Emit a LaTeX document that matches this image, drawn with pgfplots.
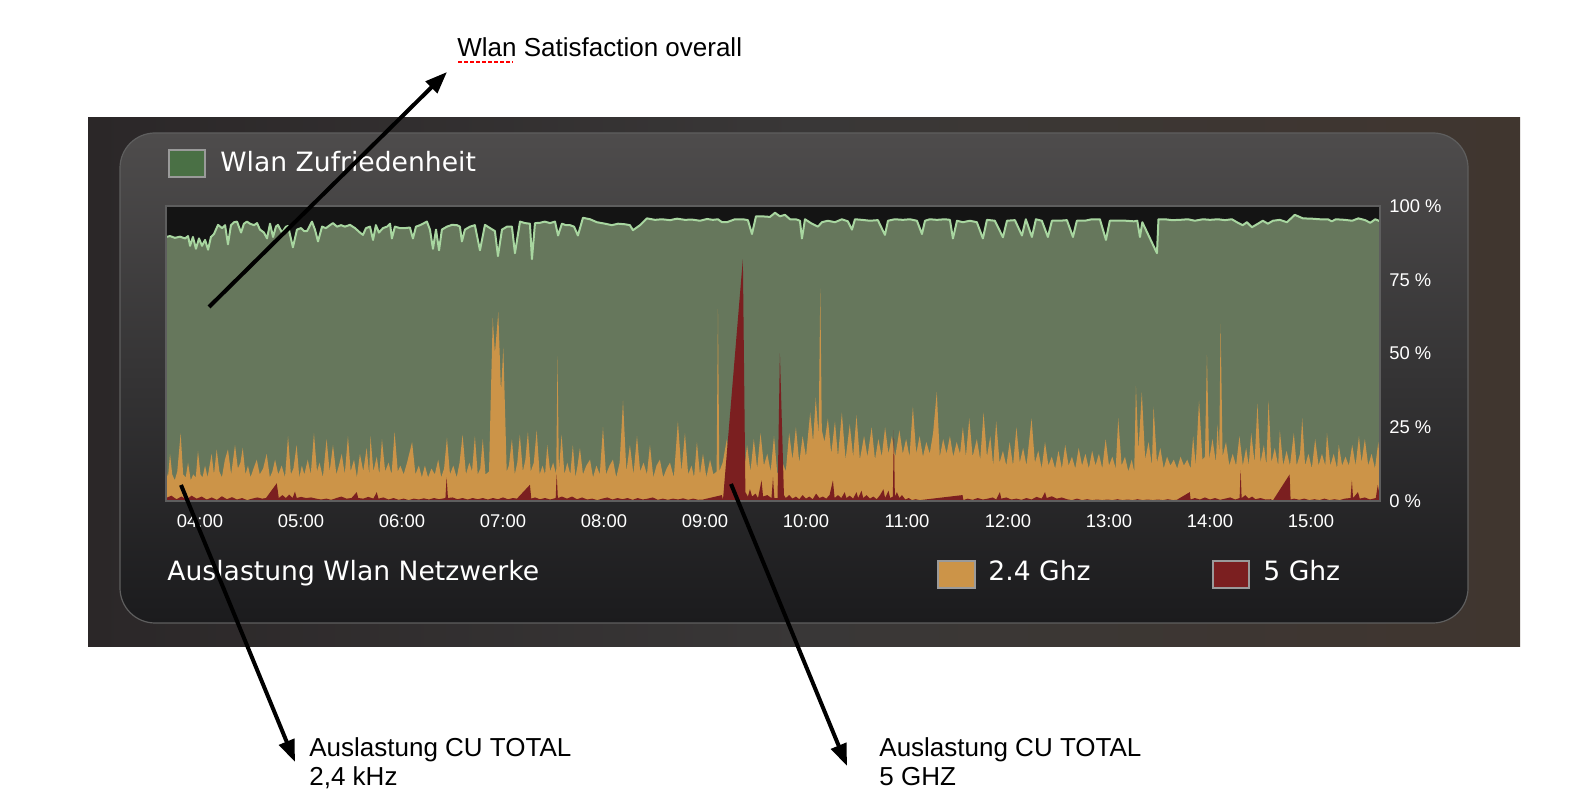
\documentclass[border=0pt]{standalone}
\usepackage{pgfplots}
\pgfplotsset{compat=1.18}
\usepackage{pgfplotstable}
\usepackage{fontspec}
\setmainfont{Liberation Sans}
\newfontfamily\dv{DejaVu Sans}
\usetikzlibrary{arrows.meta}
\definecolor{plotbg}{HTML}{141414}
\definecolor{satfill}{HTML}{66775C}
\definecolor{satline}{HTML}{A8D6A0}
\definecolor{ghzA}{HTML}{CC9448}
\definecolor{ghzB}{HTML}{7B1F20}
\definecolor{legg}{HTML}{4A7045}
\definecolor{frameg}{HTML}{5E5E5E}
\definecolor{outerL}{HTML}{2B2728}
\definecolor{outerM}{HTML}{393737}
\definecolor{outerR}{HTML}{40362F}
\definecolor{innerT}{HTML}{4E4C4C}
\definecolor{innerB}{HTML}{1B1B1D}
\definecolor{sqborder}{HTML}{9A9A9A}

\pgfplotstableread[row sep=\\]{x y\\
-20.2 89.5\\ -17.8 89.8\\ -14.9 89.2\\ -11.9 89.6\\ -8.9 89.0\\ -7.1 89.8\\ -5.9 86.5\\ -4.2 89.5\\ -2.4 85.5\\ -0.6 89\\ 1.2 86.5\\ 3.0 88.5\\ 4.8 85.2\\ 6.5 89.5\\ 8.3 90.5\\ 10.7 93.6\\ 13.1 92.5\\ 14.9 93.5\\ 16.6 87.0\\ 18.4 93.5\\ 20.2 94.5\\ 22.0 94.7\\ 24.4 91\\ 26.1 94\\ 27.9 94.7\\ 29.7 94\\ 32.1 93.5\\ 33.9 94.2\\ 35.6 92\\ 38.0 91\\ 39.8 89.0\\ 41.6 94\\ 43.4 89.5\\ 45.1 93\\ 46.3 93.6\\ 48.7 91\\ 51.1 93\\ 52.3 93.2\\ 55.2 86.0\\ 57.6 92\\ 60.0 92.5\\ 61.8 91.5\\ 63.6 91.5\\ 66.5 94.7\\ 68.3 92\\ 70.1 88\\ 72.5 93\\ 74.8 92.5\\ 77.2 93.5\\ 79.0 94.2\\ 81.4 93\\ 83.8 93.5\\ 86.1 93\\ 89.1 93.6\\ 92.1 92.5\\ 95.0 91\\ 96.8 90.2\\ 98.6 92.5\\ 101 93\\ 102.8 88.5\\ 104.5 93.5\\ 106.3 91\\ 108.7 92.5\\ 111.1 93\\ 112.9 94\\ 114 89\\ 115.8 93\\ 118.8 92.5\\ 121.8 92.5\\ 124.7 92.7\\ 126.5 89\\ 128.3 93\\ 130.7 93.5\\ 133.1 94.2\\ 134.8 94.7\\ 136.6 92\\ 138.4 85.5\\ 140.2 92\\ 142.0 85\\ 143.7 92\\ 146.7 93\\ 149.7 93.6\\ 152.7 93.5\\ 154.4 93\\ 155.6 88\\ 157.4 92\\ 160.4 93\\ 163.3 93.5\\ 166.3 85\\ 169.3 93.6\\ 172.3 92.5\\ 175.2 91.5\\ 177.0 83\\ 179.4 92\\ 182.4 93\\ 185.3 93\\ 187.1 84\\ 190.1 94.7\\ 193.1 94.2\\ 196.0 94\\ 197.2 82\\ 199.0 94.2\\ 202.0 94.3\\ 204.9 94.7\\ 207.9 94.2\\ 210.9 94.7\\ 212.7 90\\ 215.0 94\\ 217.4 93.5\\ 219.8 93.5\\ 222.2 93\\ 224.5 90\\ 227.5 96\\ 231.7 95.5\\ 235.8 94.5\\ 240.6 94\\ 244.7 93.5\\ 248.3 94\\ 252.5 93.8\\ 255.4 93.5\\ 257.2 91.8\\ 261.4 93.5\\ 265.5 95.8\\ 270.3 95.3\\ 274.4 95.5\\ 279.2 95.2\\ 283.4 95.7\\ 288.1 95.3\\ 292.2 95.4\\ 297 95\\ 301.2 95.6\\ 304.7 95.3\\ 307.7 95.5\\ 310.1 94.5\\ 313.0 94.5\\ 317.8 95.5\\ 322.5 95.5\\ 325.5 95.2\\ 327.9 90.5\\ 330.3 96.5\\ 333.8 96.5\\ 338.6 96.3\\ 341.6 97.7\\ 344.5 96.5\\ 347.5 97\\ 350.5 95.5\\ 354.0 95.5\\ 356.4 95\\ 357.6 89\\ 359.4 95.5\\ 363.5 94\\ 367.1 93\\ 369.5 94.5\\ 373.0 95\\ 377.2 94.5\\ 381.3 95.5\\ 384.9 94.8\\ 387.3 92\\ 389.1 95.5\\ 393.2 95.3\\ 398.0 95\\ 402.7 95.2\\ 406.9 90.2\\ 408.7 95\\ 412.8 95.5\\ 417.6 95.3\\ 421.7 95.5\\ 425.9 95\\ 428.9 90.5\\ 430.7 95\\ 433.6 95.5\\ 437.8 95.3\\ 442.5 95.5\\ 445.5 95.3\\ 447.3 89\\ 449.7 95\\ 453.2 94.5\\ 457.4 95\\ 461.5 94.5\\ 465.1 89\\ 467.5 95.3\\ 472.2 95\\ 477.0 89.4\\ 479.4 95\\ 484.1 95.2\\ 488.3 90\\ 490.6 95.5\\ 494.2 89.5\\ 496.6 95.5\\ 500.1 95\\ 503.7 89.5\\ 506.1 95\\ 510.8 95\\ 515 95.2\\ 518.6 89.5\\ 520.9 95\\ 525.7 95\\ 529.8 95.5\\ 534.6 95.5\\ 538.2 88.5\\ 540.5 95\\ 545.3 95\\ 550.0 95\\ 554.8 94.8\\ 556.8 95\\ 558.4 89.5\\ 559.8 94.5\\ 568.5 84\\ 569.4 95.5\\ 573.2 95.5\\ 577.4 95.2\\ 582.1 95.3\\ 586.9 95.5\\ 591.0 95\\ 595.8 95.5\\ 600 95.3\\ 604.7 95.5\\ 608.9 95.2\\ 613.0 95.5\\ 616.6 94.3\\ 619.5 93.5\\ 621.9 94.5\\ 624.9 92.8\\ 628.5 94\\ 631.4 95\\ 634.4 94\\ 637.4 95\\ 641.5 95.3\\ 645.7 94.5\\ 650.4 97\\ 655.2 95.8\\ 660.5 95.7\\ 665.3 95.5\\ 670.0 95.5\\ 672.4 94.8\\ 674.8 95.5\\ 680.1 95.3\\ 684.5 95\\ 688.1 95.8\\ 692.2 95.2\\ 695.2 94.3\\ 698.2 95.5\\ 701 94.8\\
}\satdata

\pgfplotstableread[row sep=\\]{x y\\
-20.2 11\\ -19 8\\ -17.8 16\\ -16.5 9\\ -15 7\\ -13.5 10\\ -11.5 23\\ -10 9\\ -8.5 8\\ -7.1 13\\ -5.5 7\\ -4 9\\ -2.5 8\\ -1.2 17\\ 0.3 9\\ 1.5 8\\ 3 12\\ 4.5 8\\ 6.9 16\\ 8.3 9\\ 9.9 17.5\\ 11.5 10\\ 13 8\\ 14.8 14\\ 16.6 17.5\\ 18.5 9\\ 20.8 19\\ 22.5 11\\ 24 13\\ 25.4 18\\ 27 9\\ 28.5 12\\ 30 8\\ 31.8 11\\ 33.7 14\\ 35.5 9\\ 37.5 11\\ 39.6 16\\ 41.5 8\\ 43 10\\ 44.6 14\\ 46.5 9\\ 48.5 12\\ 50.5 8\\ 52.3 22\\ 54 9\\ 55.5 11\\ 57.4 19\\ 59 8\\ 60.5 12\\ 62 9\\ 64 14\\ 65.8 9\\ 67.7 23\\ 69.5 10\\ 71 13\\ 73 8\\ 75.2 21\\ 77 10\\ 79 19\\ 81 9\\ 82.5 12\\ 84.2 16\\ 86 9\\ 87.9 22\\ 89.5 10\\ 91.5 14\\ 93.2 8\\ 95 16\\ 97 10\\ 99 18\\ 100.5 9\\ 101.3 22\\ 103 10\\ 105 15\\ 106.5 9\\ 108.1 21\\ 110 10\\ 112 13\\ 113.8 9\\ 115.6 23.5\\ 117.5 10\\ 119 12\\ 121 9\\ 123 13\\ 126 20\\ 128 9\\ 130 12\\ 131.8 8\\ 133.6 12\\ 135.5 8\\ 137.5 11\\ 139.5 9\\ 141.5 14\\ 143.3 8\\ 145 11\\ 146.7 21.5\\ 148.5 9\\ 150.5 12\\ 152.5 8\\ 154.2 13\\ 156 22.5\\ 158 9\\ 160 13\\ 161.6 10\\ 163.3 22\\ 165 9\\ 166.5 11\\ 168 21\\ 169.6 9\\ 171.7 10\\ 173.9 62\\ 175.2 50\\ 177.2 64\\ 178.8 37\\ 180.2 52\\ 182.2 10\\ 183.5 12\\ 185.3 21\\ 187 9\\ 188.5 13\\ 190 22.5\\ 191.8 10\\ 193.3 14\\ 194.8 23.5\\ 196.5 10\\ 198.3 13\\ 200 24\\ 201.8 9\\ 203.5 12\\ 205 9\\ 206.3 19\\ 208 10\\ 209.8 13\\ 211.6 9\\ 212.4 49\\ 213.2 10\\ 214.8 22.5\\ 216.5 9\\ 218.2 13\\ 220 9\\ 221.5 19\\ 223 8\\ 224.3 12\\ 225.7 18\\ 227.5 9\\ 229.5 12\\ 231.7 14\\ 233.5 8\\ 235.5 12\\ 237.5 9\\ 239.4 25\\ 241.2 9\\ 243.3 12\\ 245.3 14\\ 247.3 8\\ 249.3 13\\ 251.3 34\\ 253.3 10\\ 255.4 19\\ 257.5 9\\ 259.6 22\\ 261.5 10\\ 263.5 13\\ 265.5 9\\ 267.3 19\\ 269.3 8\\ 271.2 12\\ 273.2 14\\ 275.2 8\\ 277.2 11\\ 279.2 13\\ 281.5 8\\ 283.9 27\\ 286 10\\ 288.1 23\\ 290 9\\ 292 12\\ 293.5 8\\ 295.2 20\\ 297 9\\ 298.8 16\\ 300.8 8\\ 303 14\\ 305 9\\ 306.9 10\\ 307.7 65\\ 308.5 10\\ 310.5 13\\ 313 21\\ 315 9\\ 317 12\\ 319 8\\ 321 11\\ 323 9\\ 325 19\\ 327 10\\ 329 21\\ 331 11\\ 333 23\\ 335 12\\ 337 16\\ 339 10\\ 341 22\\ 343 9\\ 345.5 14\\ 348 10\\ 350 23\\ 352 14\\ 354 25\\ 356 13\\ 358 22\\ 360 15\\ 362.5 30\\ 364.2 20\\ 365.8 35\\ 367.5 22\\ 368.5 72\\ 369.4 24\\ 371 20\\ 373 28\\ 375 16\\ 377.2 27\\ 379 15\\ 381.3 30\\ 383.5 14\\ 386 26\\ 388 15\\ 390 29\\ 392 14\\ 394.5 22\\ 396.5 15\\ 399 25\\ 401 14\\ 403 21\\ 405 15\\ 407 25\\ 409 16\\ 411 22\\ 413 15\\ 415.5 24\\ 417.5 16\\ 419.5 21\\ 421.5 15\\ 423.5 32\\ 425.5 16\\ 427.5 22\\ 429.5 15\\ 431.5 20\\ 433.5 16\\ 435.5 23\\ 437.7 37\\ 439.5 15\\ 441.5 21\\ 443.5 16\\ 445.5 22\\ 447.5 15\\ 449.5 20\\ 451.5 16\\ 453.2 25\\ 455 15\\ 457 28\\ 459 15\\ 461.5 21\\ 463.5 14\\ 465.5 30\\ 467.5 15\\ 469.5 22\\ 471.2 12\\ 473 27\\ 475 13\\ 477 17\\ 479 12\\ 481 20\\ 483 12\\ 485 25\\ 487 13\\ 489 18\\ 491 12\\ 494 28\\ 496 13\\ 498 17\\ 500 11\\ 502 20\\ 504 12\\ 506 15\\ 508 11\\ 510 17\\ 512 11\\ 514 19\\ 516 12\\ 518 15\\ 520 11\\ 522 18\\ 524 12\\ 526 16\\ 528 11\\ 530 17\\ 532 12\\ 534 16\\ 536 11\\ 538 21\\ 540 12\\ 542 15\\ 544 11\\ 545.5 28\\ 547.5 12\\ 549.5 15\\ 551.5 10\\ 553.5 14\\ 555 10\\ 556 39\\ 557.5 17\\ 559.5 37\\ 561.5 14\\ 563.5 20\\ 565.5 12\\ 566.5 32\\ 568.5 13\\ 570.5 18\\ 572.5 11\\ 574.5 15\\ 576.5 12\\ 578.5 14\\ 580.5 11\\ 582.5 15\\ 584.5 12\\ 586.5 14\\ 588.5 11\\ 590 22\\ 591.5 12\\ 593.5 34\\ 595.5 14\\ 597 15\\ 598.2 49.5\\ 599.5 14\\ 601.5 21\\ 603.5 13\\ 604.5 26\\ 605.5 16\\ 606.3 60\\ 607.5 15\\ 609.5 20\\ 611.5 12\\ 613.5 16\\ 615.5 12\\ 617.5 22\\ 619.5 12\\ 621.5 18\\ 623 12\\ 624.5 23\\ 626.5 13\\ 628.2 33\\ 630 13\\ 632 19\\ 633.5 12\\ 634.8 34\\ 636.5 13\\ 638.5 18\\ 640.5 12\\ 641.5 24\\ 643.5 12\\ 645.5 17\\ 647.5 12\\ 649.8 23\\ 651.5 12\\ 653.5 16\\ 654.8 28\\ 656.5 12\\ 658.5 16\\ 660.5 11\\ 662.5 21\\ 664.5 12\\ 666.5 16\\ 668.5 12\\ 669.5 23\\ 671.5 12\\ 673.5 16\\ 675.5 11\\ 676.5 19\\ 678.5 12\\ 680.5 15\\ 682.5 12\\ 684.5 19\\ 686.5 12\\ 688.5 22\\ 690 13\\ 692 21\\ 694 12\\ 696 16\\ 698 11\\ 700 20\\ 701 12\\
}\ghzAdata

\pgfplotstableread[row sep=\\]{x y\\
-20.2 1\\ -17 1.8\\ -14 0.6\\ -11 1.5\\ -8 0.5\\ -5 1.8\\ -2 0.8\\ 1 1.5\\ 4 0.5\\ 7 1.2\\ 10 0.4\\ 13 1.6\\ 16 0.6\\ 19 1.3\\ 22 0.5\\ 25 1.0\\ 28 0.3\\ 31 0.8\\ 34 1.2\\ 37 0.8\\ 39.2 1\\ 45.6 6\\ 46.8 1\\ 49 2\\ 51 1\\ 53 2.2\\ 55 1\\ 56.4 3.2\\ 57.5 1\\ 60 1.4\\ 63 1\\ 66 1.2\\ 69 0.8\\ 72 0.5\\ 75 0.8\\ 78 0.4\\ 81 1\\ 84 1.5\\ 87 0.8\\ 90 1\\ 93.1 3\\ 94 1\\ 97 0.8\\ 100 1.4\\ 103 0.8\\ 105 3\\ 106 0.8\\ 109 1.2\\ 112 0.5\\ 115 1\\ 118 0.4\\ 121 0.8\\ 124 0.3\\ 127 0.8\\ 130 0.5\\ 133 0.9\\ 136 0.5\\ 139 1\\ 142 0.6\\ 145.8 1\\ 146.5 8\\ 147.3 1\\ 150 1.2\\ 153 0.6\\ 156 1\\ 159 0.5\\ 162 1\\ 165 0.6\\ 168 1\\ 171 0.5\\ 174 1\\ 177 0.6\\ 180 1.2\\ 183 0.6\\ 186 1\\ 188.3 0.8\\ 196 5.5\\ 196.8 0.8\\ 199 1.2\\ 202 0.6\\ 205 1\\ 208 0.5\\ 211.3 1\\ 211.9 9\\ 212.6 1\\ 215 1.5\\ 218 0.8\\ 221 1.5\\ 224 0.6\\ 227 1.2\\ 230 0.5\\ 233 0.8\\ 236 0.3\\ 239 0.8\\ 242 1.2\\ 245 0.5\\ 248 1\\ 251 0.6\\ 254 1\\ 257 0.4\\ 260 1\\ 263 0.5\\ 266 0.8\\ 269 1.2\\ 272 0.4\\ 275 0.8\\ 278 0.4\\ 281 0.8\\ 284 0.5\\ 287 0.9\\ 290 0.4\\ 293 0.8\\ 296 0.4\\ 298.8 0.5\\ 310 2\\ 310.7 0.5\\ 322.5 82\\ 324 3\\ 325.5 1.5\\ 326.7 4\\ 328 1.5\\ 330 2.5\\ 331.5 1\\ 333.6 7\\ 334.5 1.5\\ 337 2\\ 339.5 1\\ 340.4 8\\ 341.2 1\\ 343.1 1\\ 344.5 50\\ 346.9 2\\ 348 1\\ 350 2\\ 352 0.8\\ 354 1.5\\ 356 0.6\\ 358 2\\ 360 0.8\\ 362 1.5\\ 364 0.6\\ 366 2.5\\ 368 1\\ 370 1.5\\ 372 0.8\\ 374 2\\ 376 7\\ 377 1\\ 379 2\\ 381 1\\ 383 3\\ 384 1\\ 386 1.8\\ 388 0.8\\ 390 3\\ 391 1\\ 393 3.5\\ 394 1\\ 396 2\\ 398 0.8\\ 400 1.5\\ 402 0.6\\ 404 2\\ 406 4\\ 407 1\\ 409 3.5\\ 410 1\\ 411.6 1.5\\ 412.2 24\\ 412.8 1.5\\ 414 3\\ 415.5 1\\ 417 2\\ 419 0.5\\ 421 1\\ 423 0.3\\ 425 0.6\\ 427.7 0.3\\ 453 2\\ 453.5 0.3\\ 456 0.8\\ 459 0.4\\ 462 1\\ 465 0.5\\ 468 0.8\\ 471 1.2\\ 473 0.5\\ 475.2 3\\ 476 0.8\\ 479 1.2\\ 482 0.5\\ 485 0.8\\ 488 0.4\\ 491 1\\ 494 0.5\\ 497 1.4\\ 500 0.8\\ 502 3\\ 503 1\\ 506 1.6\\ 509 0.8\\ 512 1.2\\ 515 0.6\\ 518 0.3\\ 521 0.8\\ 524 0.3\\ 527 0.6\\ 530 0.3\\ 533 0.5\\ 536 0.3\\ 539 0.5\\ 542 0.3\\ 545 0.6\\ 548 0.3\\ 551 0.5\\ 554 0.3\\ 557 0.6\\ 560 0.3\\ 563 0.5\\ 566 0.3\\ 569 0.5\\ 572 0.3\\ 575 0.6\\ 578 0.3\\ 580.3 0.4\\ 588 3\\ 588.5 0.5\\ 591 1\\ 594 0.5\\ 597 1.2\\ 600 0.5\\ 603 1\\ 606 0.4\\ 609 0.8\\ 612 1.2\\ 615 0.5\\ 617.6 1\\ 618.2 10.5\\ 618.8 1\\ 621 2\\ 623 0.8\\ 625 1.5\\ 627 0.6\\ 630 1\\ 633 0.5\\ 636 0.6\\ 637.4 0.2\\ 647.3 9\\ 647.9 0.5\\ 650 0.8\\ 653 0.4\\ 656 0.8\\ 659 0.3\\ 662 0.6\\ 665 0.3\\ 668 0.8\\ 671 0.3\\ 674 0.6\\ 677 0.3\\ 680 0.8\\ 683.5 1\\ 684.3 7\\ 685 1\\ 687.9 3\\ 689 0.8\\ 692 1.2\\ 695 0.5\\ 698.5 1\\ 699.7 5.5\\ 701 1\\
}\ghzBdata

\begin{document}
\begin{tikzpicture}[x=0.5pt,y=0.5pt]
% page
\fill[white] (0,0) rectangle (1574,796);
% dashboard panel
\shade[left color=outerL, right color=outerR, middle color=outerM] (88,149) rectangle (1520,678);
\shadedraw[top color=innerT, bottom color=innerB, draw=frameg, line width=0.6pt, rounded corners=17.5pt] (120,173) rectangle (1468,663);
% top legend
\filldraw[fill=legg, draw=sqborder, line width=0.6pt] (169,619) rectangle (205,646);
\node[anchor=base west, inner sep=0pt, text=white, font=\dv\fontsize{13.3}{16}\selectfont] at (220,624) {Wlan Zufriedenheit};
% bottom legend
\node[anchor=base west, inner sep=0pt, text=white, font=\dv\fontsize{13.3}{16}\selectfont] at (167,215) {Auslastung Wlan Netzwerke};
\filldraw[fill=ghzA, draw=sqborder, line width=0.6pt] (938,208) rectangle (975,235);
\node[anchor=base west, inner sep=0pt, text=white, font=\dv\fontsize{13.3}{16}\selectfont] at (988,215) {2.4 Ghz};
\filldraw[fill=ghzB, draw=sqborder, line width=0.6pt] (1213,208) rectangle (1249,235);
\node[anchor=base west, inner sep=0pt, text=white, font=\dv\fontsize{13.3}{16}\selectfont] at (1263,215) {5 Ghz};

\begin{axis}[
  at={(83pt,147.5pt)}, anchor=south west,
  scale only axis, width=607pt, height=147.5pt,
  xmin=-20.2, xmax=701, ymin=0, ymax=100,
  axis background/.style={fill=plotbg},
  axis line style={draw=frameg, line width=1pt},
  axis on top,
  xtick={0,60,120,180,240,300,360,420,480,540,600,660},
  xticklabels={04:00,05:00,06:00,07:00,08:00,09:00,10:00,11:00,12:00,13:00,14:00,15:00},
  ytick={0,25,50,75,100},
  yticklabels={0 \%,25 \%,50 \%,75 \%,100 \%},
  yticklabel pos=right,
  major tick length=0pt,
  tick label style={text=white, font=\fontsize{9.2}{11}\selectfont},
  xticklabel style={anchor=north, inner sep=0pt, yshift=-6.75pt},
  yticklabel style={anchor=west, inner sep=0pt, xshift=4.5pt},
]
\addplot[fill=satfill, draw=none] table[x=x,y=y] {\satdata} \closedcycle;
\addplot[fill=ghzA, draw=none] table[x=x,y=y] {\ghzAdata} \closedcycle;
\addplot[fill=ghzB, draw=none] table[x=x,y=y] {\ghzBdata} \closedcycle;
\addplot[satline, line width=1pt, line join=round] table[x=x,y=y] {\satdata};
\end{axis}

% annotations
\draw[line width=2pt, -{Triangle[length=11pt,width=8pt]}] (209,489) -- (447,724);
\draw[line width=2pt, -{Triangle[length=11pt,width=8pt]}] (181,311) -- (295,34);
\draw[line width=2pt, -{Triangle[length=11pt,width=8pt]}] (731,312) -- (847,30);
\node[anchor=base west, inner sep=0pt, font=\fontsize{13}{15}\selectfont] at (457,739) {Wlan Satisfaction overall};
\draw[red, line width=1pt, dash pattern=on 2pt off 1pt] (458,734) -- (513,734);
\node[anchor=base west, inner sep=0pt, font=\fontsize{13}{15}\selectfont] at (309,39) {Auslastung CU TOTAL};
\node[anchor=base west, inner sep=0pt, font=\fontsize{13}{15}\selectfont] at (309,10) {2,4 kHz};
\node[anchor=base west, inner sep=0pt, font=\fontsize{13}{15}\selectfont] at (879,39) {Auslastung CU TOTAL};
\node[anchor=base west, inner sep=0pt, font=\fontsize{13}{15}\selectfont] at (879,10) {5 GHZ};
\end{tikzpicture}
\end{document}
